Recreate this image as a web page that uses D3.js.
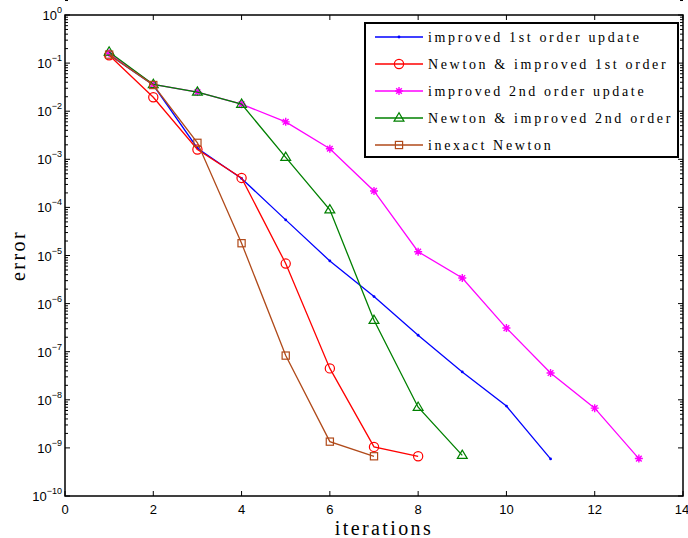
<!DOCTYPE html>
<html>
<head>
<meta charset="utf-8">
<script src="https://cdn.jsdelivr.net/npm/d3@7"></script>
<style>
  body { margin: 0; background: #fff; }
  svg { display: block; }
  .tick-label { font-family: "Liberation Sans", Arial, sans-serif; font-size: 13px; fill: #000; }
  .axis-title { font-family: "Liberation Serif", "DejaVu Serif", serif; font-size: 20px; letter-spacing: 2.4px; fill: #000; }
  .legend-text { font-family: "Liberation Serif", "DejaVu Serif", serif; font-size: 14px; letter-spacing: 2.65px; fill: #000; }
</style>
</head>
<body>
<div id="chart"></div>
<script>
// data
const iterations_blue = [1, 2, 3, 4, 5, 6, 7, 8, 9, 10, 11];
const error_blue = [0.15, 0.035, 0.0017, 4.0e-4, 5.5e-5, 7.7e-6, 1.4e-6, 2.2e-7, 3.8e-8, 7.4e-9, 5.9e-10];

const iterations_red = [1, 2, 3, 4, 5, 6, 7, 8];
const error_red = [0.145, 0.0195, 0.0016, 4.1e-4, 6.8e-6, 4.5e-8, 1.05e-9, 6.7e-10];

const iterations_magenta = [1, 2, 3, 4, 5, 6, 7, 8, 9, 10, 11, 12, 13];
const error_magenta = [0.16, 0.036, 0.025, 0.014, 0.006, 0.00166, 2.2e-4, 1.2e-5, 3.4e-6, 3.1e-7, 3.6e-8, 6.7e-9, 6.0e-10];

const iterations_green = [1, 2, 3, 4, 5, 6, 7, 8, 9];
const error_green = [0.17, 0.036, 0.025, 0.014, 0.0011, 8.9e-5, 4.5e-7, 7.0e-9, 7.0e-10];

const iterations_brown = [1, 2, 3, 4, 5, 6, 7];
const error_brown = [0.15, 0.035, 0.0022, 1.8e-5, 8.3e-8, 1.35e-9, 6.7e-10];

const series_names = [
  "improved 1st order update",
  "Newton & improved 1st order",
  "improved 2nd order update",
  "Newton & improved 2nd order",
  "inexact Newton"
];

const x_ticks = [0, 2, 4, 6, 8, 10, 12, 14];
const y_exponents = [0, -1, -2, -3, -4, -5, -6, -7, -8, -9, -10];

const series = [
  {name: series_names[0], xs: iterations_blue, ys: error_blue, color: "#0000ff", marker: "point"},
  {name: series_names[1], xs: iterations_red, ys: error_red, color: "#ff0000", marker: "circle"},
  {name: series_names[2], xs: iterations_magenta, ys: error_magenta, color: "#ff00ff", marker: "star"},
  {name: series_names[3], xs: iterations_green, ys: error_green, color: "#008000", marker: "triangle"},
  {name: series_names[4], xs: iterations_brown, ys: error_brown, color: "#b04a1a", marker: "square"}
];

const width = 688, height = 538;
const plot = {left: 65, right: 683, top: 15, bottom: 496};

const svg = d3.select("#chart").append("svg")
    .attr("width", width)
    .attr("height", height);

const x = d3.scaleLinear().domain([0, 14]).range([plot.left, plot.right]);
const y = d3.scaleLog().domain([1, 1e-10]).range([plot.top, plot.bottom]);

// ticks (inward, on all four sides like matlab)
const ticks_g = svg.append("g").attr("stroke", "#000").attr("stroke-width", 1);
const major_len = 5, minor_len = 3;

x_ticks.forEach(t => {
  ticks_g.append("line")
      .attr("x1", x(t)).attr("x2", x(t))
      .attr("y1", plot.bottom).attr("y2", plot.bottom - major_len);
  ticks_g.append("line")
      .attr("x1", x(t)).attr("x2", x(t))
      .attr("y1", plot.top).attr("y2", plot.top + major_len);
});

y_exponents.forEach(e => {
  const v = Math.pow(10, e);
  [[plot.left, 1], [plot.right, -1]].forEach(([x0, dir]) => {
    ticks_g.append("line")
        .attr("x1", x0).attr("x2", x0 + dir * major_len)
        .attr("y1", y(v)).attr("y2", y(v));
    if (e > -10) {
      for (let m = 2; m <= 9; m++) {
        const yy = y(m * v);
        ticks_g.append("line")
            .attr("x1", x0).attr("x2", x0 + dir * minor_len)
            .attr("y1", yy).attr("y2", yy);
      }
    }
  });
});

// tick labels
svg.append("g").selectAll("text")
  .data(x_ticks)
  .join("text")
    .attr("class", "tick-label")
    .attr("x", d => d === 14 ? x(d) - 1 : x(d))
    .attr("y", plot.bottom + 18)
    .attr("text-anchor", "middle")
    .text(d => d);

const ylab = svg.append("g").selectAll("text")
  .data(y_exponents)
  .join("text")
    .attr("class", "tick-label")
    .attr("x", plot.left - 3)
    .attr("y", d => y(Math.pow(10, d)) + 5)
    .attr("text-anchor", "end");
ylab.append("tspan").text("10");
ylab.append("tspan")
    .attr("dy", -7)
    .attr("font-size", "9px")
    .text(d => d === 0 ? "0" : "\u2212" + Math.abs(d));

// axis titles
svg.append("text")
    .attr("class", "axis-title")
    .attr("x", x(7) + 10)
    .attr("y", 535)
    .attr("text-anchor", "middle")
    .text("iterations");

svg.append("text")
    .attr("class", "axis-title")
    .attr("transform", `translate(25, ${(plot.top + plot.bottom) / 2}) rotate(-90)`)
    .attr("text-anchor", "middle")
    .text("error");

// series
const line = d3.line();

function draw_marker(g, type, cx, cy, color) {
  if (type === "point") {
    g.append("circle").attr("cx", cx).attr("cy", cy).attr("r", 1.4).attr("fill", color);
  } else if (type === "circle") {
    g.append("circle").attr("cx", cx).attr("cy", cy).attr("r", 4.6)
        .attr("fill", "none").attr("stroke", color).attr("stroke-width", 1.2);
  } else if (type === "square") {
    g.append("rect").attr("x", cx - 3.6).attr("y", cy - 3.6).attr("width", 7.2).attr("height", 7.2)
        .attr("fill", "none").attr("stroke", color).attr("stroke-width", 1.2);
  } else if (type === "triangle") {
    const r = 5.2;
    const pts = [[cx, cy - r], [cx - r * 0.95, cy + r * 0.6], [cx + r * 0.95, cy + r * 0.6]];
    g.append("path").attr("d", d3.line()(pts) + "Z")
        .attr("fill", "none").attr("stroke", color).attr("stroke-width", 1.2);
  } else if (type === "star") {
    const r = 4;
    const d = [0, 45, 90, 135].map(a => {
      const rad = a * Math.PI / 180;
      const dx = r * Math.cos(rad), dy = r * Math.sin(rad);
      return `M${cx - dx},${cy - dy}L${cx + dx},${cy + dy}`;
    }).join("");
    g.append("path").attr("d", d).attr("stroke", color).attr("stroke-width", 1.4);
  }
}

const series_g = svg.append("g");
series.forEach(s => {
  const pts = s.xs.map((xv, i) => [x(xv), y(s.ys[i])]);
  const g = series_g.append("g");
  g.append("path")
      .attr("d", line(pts))
      .attr("fill", "none")
      .attr("stroke", s.color)
      .attr("stroke-width", 1.3);
  pts.forEach(p => draw_marker(g, s.marker, p[0], p[1], s.color));
});

// axes box
svg.append("rect")
    .attr("x", plot.left).attr("y", plot.top)
    .attr("width", plot.right - plot.left).attr("height", plot.bottom - plot.top)
    .attr("fill", "none").attr("stroke", "#000").attr("stroke-width", 1.5);

// legend
const legend = svg.append("g");
legend.append("rect")
    .attr("x", 365).attr("y", 23)
    .attr("width", 313).attr("height", 134)
    .attr("fill", "#fff").attr("stroke", "#000").attr("stroke-width", 2);

series.forEach((s, i) => {
  const ly = 37 + i * 27;
  const g = legend.append("g");
  g.append("line")
      .attr("x1", 375).attr("x2", 423)
      .attr("y1", ly).attr("y2", ly)
      .attr("stroke", s.color).attr("stroke-width", 1.3);
  draw_marker(g, s.marker, 399, ly, s.color);
  g.append("text")
      .attr("class", "legend-text")
      .attr("x", 428)
      .attr("y", ly + 5)
      .text(s.name);
});
</script>
</body>
</html>
